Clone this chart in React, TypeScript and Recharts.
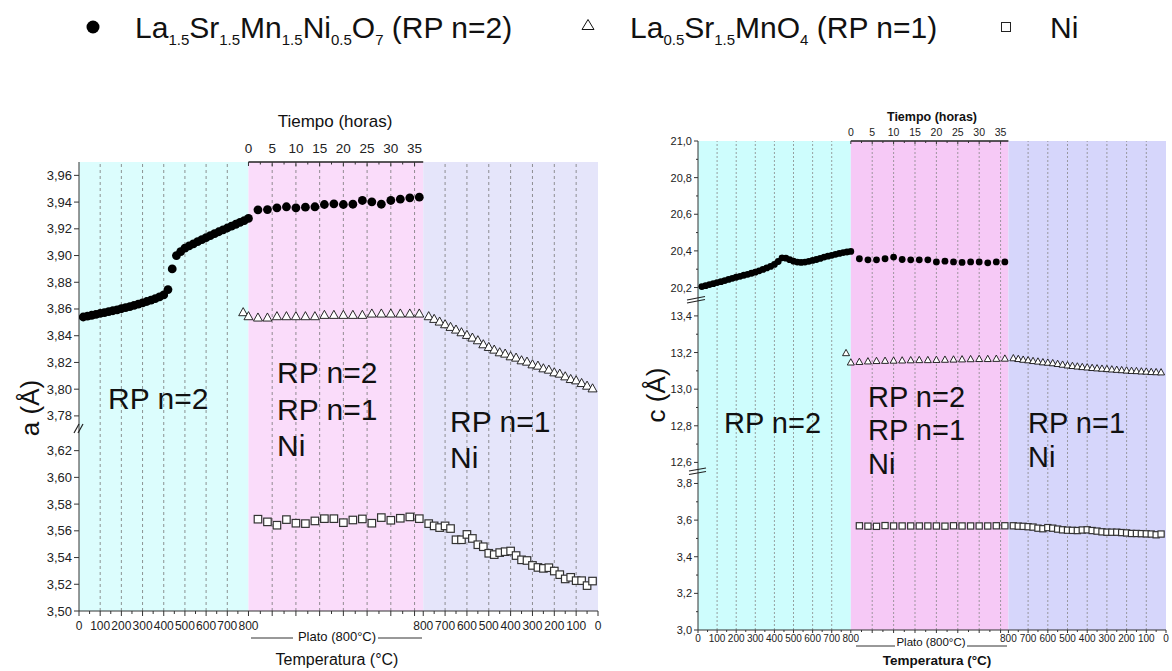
import React from "react";
import {
  ReferenceArea,
  ReferenceLine,
  Scatter,
  ScatterChart,
  XAxis,
  YAxis,
} from "recharts";

const FONT = "'Liberation Sans', Arial, Helvetica, sans-serif";

// x layout: heating 0→800 °C, plateau (hours), cooling 800→0 °C
const HEAT_TICKS = [0, 100, 200, 300, 400, 500, 600, 700, 800];
const HEAT_MINOR = [50, 150, 250, 350, 450, 550, 650, 750];
const HOUR_TICKS = [0, 5, 10, 15, 20, 25, 30, 35];
const HOUR_MINOR = [2.5, 7.5, 12.5, 17.5, 22.5, 27.5, 32.5];
const COOL_TICKS = [800, 700, 600, 500, 400, 300, 200, 100, 0];
const COOL_MINOR = [750, 650, 550, 450, 350, 250, 150, 50];

const PLAT_START = 800;
const PER_HOUR = 22.4;
const PLAT_END = 1625;
const COOL_SCALE = 1.03125;
const X_MAX = 2450;

const heatX = (t: number) => t;
const platX = (h: number) => PLAT_START + h * PER_HOUR;
const coolX = (t: number) => PLAT_END + (800 - t) * COOL_SCALE;

// measurement points
const HEAT_T = [
  20, 40, 60, 80, 100, 120, 140, 160, 180, 200, 220, 240, 260, 280, 300, 320,
  340, 360, 380, 400, 420, 440, 460, 480, 500, 520, 540, 560, 580, 600, 620,
  640, 660, 680, 700, 720, 740, 760, 780, 800,
];
const PLAT_H = [2, 4, 6, 8, 10, 12, 14, 16, 18, 20, 22, 24, 26, 28, 30, 32, 34, 36];
const RP1_PLAT_H = [0, 2, 4, 6, 8, 10, 12, 14, 16, 18, 20, 22, 24, 26, 28, 30, 32, 34, 36];
const RP1_HEAT_T = [775];
const COOL_T = [
  775, 750, 725, 700, 675, 650, 625, 600, 575, 550, 525, 500, 475, 450, 425,
  400, 375, 350, 325, 300, 275, 250, 225, 200, 175, 150, 125, 100, 75, 50, 25,
];

// parameter a (Å)
const A_RP2_HEAT = [
  3.854, 3.8547, 3.8553, 3.856, 3.8567, 3.8573, 3.858, 3.8587, 3.8594, 3.8602,
  3.861, 3.8618, 3.8627, 3.8636, 3.8646, 3.8656, 3.8666, 3.8677, 3.869, 3.8705,
  3.8745, 3.89, 3.9, 3.903, 3.9055, 3.9072, 3.9088, 3.9104, 3.9119, 3.9134,
  3.9149, 3.9164, 3.9178, 3.9192, 3.9206, 3.922, 3.9234, 3.9248, 3.9262, 3.9278,
];
const A_RP2_PLAT = [
  3.9342, 3.9344, 3.9357, 3.9365, 3.9357, 3.9362, 3.9365, 3.9382, 3.9387,
  3.9382, 3.9384, 3.9412, 3.9402, 3.9384, 3.9412, 3.9422, 3.9432, 3.9437,
];
const A_RP1_HEAT = [3.858];
const A_RP1_PLAT = [
  3.855, 3.854, 3.854, 3.855, 3.855, 3.855, 3.855, 3.855, 3.856, 3.856, 3.856,
  3.856, 3.856, 3.857, 3.857, 3.857, 3.857, 3.857, 3.857,
];
const A_RP1_COOL = [
  3.855, 3.853, 3.851, 3.849, 3.847, 3.845, 3.843, 3.841, 3.839, 3.837, 3.834,
  3.832, 3.83, 3.828, 3.827, 3.825, 3.824, 3.822, 3.821, 3.819, 3.818, 3.816,
  3.815, 3.813, 3.812, 3.81, 3.808, 3.807, 3.805, 3.803, 3.801,
];
const A_NI_PLAT = [
  3.5687, 3.5667, 3.5642, 3.5684, 3.5657, 3.5654, 3.5674, 3.5691, 3.5691,
  3.5661, 3.5681, 3.5689, 3.5657, 3.5699, 3.5679, 3.5694, 3.5704, 3.5691,
];
const A_NI_COOL = [
  3.5654, 3.5637, 3.5624, 3.5637, 3.5617, 3.5533, 3.5533, 3.5573, 3.5543,
  3.5496, 3.5481, 3.5432, 3.5422, 3.5437, 3.5444, 3.5449, 3.5415, 3.5383,
  3.5378, 3.5341, 3.5326, 3.5319, 3.5324, 3.5299, 3.5272, 3.524, 3.5252,
  3.5227, 3.5227, 3.519, 3.5224,
];

// parameter c (Å)
const C_RP2_HEAT = [
  20.205, 20.21, 20.216, 20.221, 20.227, 20.232, 20.238, 20.244, 20.25, 20.256,
  20.261, 20.267, 20.272, 20.278, 20.284, 20.291, 20.299, 20.307, 20.315,
  20.326, 20.342, 20.362, 20.36, 20.352, 20.344, 20.339, 20.337, 20.339,
  20.343, 20.348, 20.353, 20.359, 20.366, 20.371, 20.376, 20.381, 20.386,
  20.39, 20.394, 20.397,
];
const C_RP2_PLAT = [
  20.357, 20.351, 20.351, 20.357, 20.366, 20.353, 20.351, 20.351, 20.351,
  20.34, 20.344, 20.34, 20.337, 20.34, 20.34, 20.335, 20.34, 20.34,
];
const C_RP1_HEAT = [13.2];
const C_RP1_PLAT = [
  13.149, 13.152, 13.155, 13.157, 13.158, 13.159, 13.16, 13.161, 13.162,
  13.162, 13.163, 13.164, 13.165, 13.166, 13.167, 13.168, 13.168, 13.169, 13.17,
];
const C_RP1_COOL = [
  13.172, 13.168, 13.164, 13.161, 13.157, 13.154, 13.15, 13.148, 13.145,
  13.141, 13.137, 13.133, 13.13, 13.127, 13.124, 13.122, 13.119, 13.117,
  13.115, 13.113, 13.111, 13.109, 13.107, 13.105, 13.103, 13.102, 13.1, 13.099,
  13.097, 13.096, 13.095,
];
const C_NI_PLAT = [
  3.569, 3.567, 3.566, 3.57, 3.568, 3.568, 3.568, 3.568, 3.568, 3.568, 3.567,
  3.569, 3.568, 3.568, 3.568, 3.568, 3.569, 3.569,
];
const C_NI_COOL = [
  3.569, 3.567, 3.566, 3.564, 3.562, 3.556, 3.553, 3.559, 3.556, 3.551, 3.547,
  3.545, 3.544, 3.543, 3.546, 3.547, 3.543, 3.54, 3.536, 3.534, 3.534, 3.534,
  3.532, 3.53, 3.527, 3.527, 3.526, 3.525, 3.524, 3.52, 3.524,
];

// broken y axes: real value -> continuous plotting value
const A_TICKS_LOW = [3.5, 3.52, 3.54, 3.56, 3.58, 3.6, 3.62];
const A_TICKS_HIGH = [3.78, 3.8, 3.82, 3.84, 3.86, 3.88, 3.9, 3.92, 3.94, 3.96];
const aY = (v: number) => (v > 3.7 ? v - 0.134 : v);
const A_DOMAIN: [number, number] = [3.5, 3.836];

const C_TICKS_LOW = [3.0, 3.2, 3.4, 3.6, 3.8];
const C_TICKS_MID = [12.6, 12.8, 13.0, 13.2, 13.4];
const C_TICKS_HIGH = [20.2, 20.4, 20.6, 20.8, 21.0];
const C_MINOR = [3.1, 3.3, 3.5, 3.7, 12.7, 12.9, 13.1, 13.3, 20.3, 20.5, 20.7, 20.9];
const cY = (v: number) => (v > 17 ? v - 15.33 : v > 8 ? v - 8.685 : v);
const C_DOMAIN: [number, number] = [3.0, 5.67];

type Pt = { x: number; y: number };
type TickItem = { v: number; label: string; major: boolean };

const pts = (
  xs: number[],
  ys: number[],
  fx: (n: number) => number,
  fy: (n: number) => number
): Pt[] => xs.map((t, i) => ({ x: fx(t), y: fy(ys[i]) }));

const bottomTicks: TickItem[] = [
  ...HEAT_TICKS.map((t) => ({ v: heatX(t), label: String(t), major: true })),
  ...HEAT_MINOR.map((t) => ({ v: heatX(t), label: "", major: false })),
  ...HOUR_TICKS.slice(1).map((h) => ({ v: platX(h), label: "", major: true })),
  ...HOUR_MINOR.map((h) => ({ v: platX(h), label: "", major: false })),
  ...COOL_TICKS.map((t) => ({ v: coolX(t), label: String(t), major: true })),
  ...COOL_MINOR.map((t) => ({ v: coolX(t), label: "", major: false })),
];
const topTicks: TickItem[] = [
  ...HOUR_TICKS.map((h) => ({ v: platX(h), label: String(h), major: true })),
  ...HOUR_MINOR.map((h) => ({ v: platX(h), label: "", major: false })),
];
const gridX = [
  ...HEAT_TICKS.slice(1, -1).map(heatX),
  ...HOUR_TICKS.slice(1).map(platX),
  ...COOL_TICKS.slice(1, -1).map(coolX),
];

const aTicks: TickItem[] = [...A_TICKS_LOW, ...A_TICKS_HIGH].map((v) => ({
  v: aY(v),
  label: v.toFixed(2).replace(".", ","),
  major: true,
}));
const cTicks: TickItem[] = [
  ...[...C_TICKS_LOW, ...C_TICKS_MID, ...C_TICKS_HIGH].map((v) => ({
    v: cY(v),
    label: v.toFixed(1).replace(".", ","),
    major: true,
  })),
  ...C_MINOR.map((v) => ({ v: cY(v), label: "", major: false })),
];

const find = (list: TickItem[], v: number) =>
  list.find((t) => Math.abs(t.v - v) < 1e-6);

type TickStyle = { dir: number; len: number; minor: number; dy: number; size: number; weight?: number };

const xTick = (list: TickItem[], s: TickStyle) => (p: any) => {
  const t = find(list, p.payload.value);
  if (!t) return <g />;
  return (
    <g>
      <line x1={p.x} x2={p.x} y1={p.y} y2={p.y + s.dir * (t.major ? s.len : s.minor)} stroke="#333" />
      {t.label && (
        <text x={p.x} y={p.y + s.dy} textAnchor="middle" fontSize={s.size} fontWeight={s.weight} fontFamily={FONT} fill="#222">
          {t.label}
        </text>
      )}
    </g>
  );
};

const yTick = (list: TickItem[], s: TickStyle) => (p: any) => {
  const t = find(list, p.payload.value);
  if (!t) return <g />;
  return (
    <g>
      <line x1={p.x - (t.major ? s.len : s.minor)} x2={p.x} y1={p.y} y2={p.y} stroke="#333" />
      {t.label && (
        <text x={p.x - s.len - 2} y={p.y + s.dy} textAnchor="end" fontSize={s.size} fontWeight={s.weight} fontFamily={FONT} fill="#222">
          {t.label}
        </text>
      )}
    </g>
  );
};

const dot = (r: number) => (p: any) => <circle cx={p.cx} cy={p.cy} r={r} fill="#000" />;
const tri = (w: number) => (p: any) => {
  const h = w * 0.9;
  return (
    <path
      d={`M${p.cx},${p.cy - h / 2}L${p.cx + w / 2},${p.cy + h / 2}L${p.cx - w / 2},${p.cy + h / 2}Z`}
      fill="#fff"
      stroke="#111"
      strokeWidth={0.9}
    />
  );
};
const sq = (s: number) => (p: any) => (
  <rect x={p.cx - s / 2} y={p.cy - s / 2} width={s} height={s} fill="#fff" stroke="#333" strokeWidth={1.2} />
);

type PanelCfg = {
  left: number;
  top: number;
  w: number;
  h: number;
  margin: { top: number; right: number; bottom: number; left: number };
  yW: number;
  topH: number;
  botH: number;
  domain: [number, number];
  yTicks: TickItem[];
  bands: [string, string, string];
  grid: { stroke: string; dash: string; width: number };
  botStyle: TickStyle;
  topStyle: TickStyle;
  yStyle: TickStyle;
  rp2: Pt[];
  rp1: Pt[];
  ni: Pt[];
  r: number;
  triW: number;
  sqS: number;
};

function Panel({ c }: { c: PanelCfg }) {
  return (
    <div style={{ position: "absolute", left: c.left, top: c.top }}>
      <ScatterChart width={c.w} height={c.h} margin={c.margin}>
        <XAxis
          xAxisId="b"
          type="number"
          dataKey="x"
          domain={[0, X_MAX]}
          ticks={bottomTicks.map((t) => t.v)}
          interval={0}
          tick={xTick(bottomTicks, c.botStyle)}
          tickLine={false}
          tickSize={0}
          tickMargin={0}
          height={c.botH}
          axisLine={{ stroke: "#333" }}
          allowDataOverflow
        />
        <XAxis
          xAxisId="t"
          orientation="top"
          type="number"
          dataKey="x"
          domain={[0, X_MAX]}
          ticks={topTicks.map((t) => t.v)}
          interval={0}
          tick={xTick(topTicks, c.topStyle)}
          tickLine={false}
          tickSize={0}
          tickMargin={0}
          height={c.topH}
          axisLine={false}
          allowDataOverflow
        />
        <YAxis
          type="number"
          dataKey="y"
          domain={c.domain}
          ticks={c.yTicks.map((t) => t.v)}
          interval={0}
          tick={yTick(c.yTicks, c.yStyle)}
          tickLine={false}
          tickSize={0}
          tickMargin={0}
          width={c.yW}
          axisLine={{ stroke: "#333" }}
          allowDataOverflow
        />
        <ReferenceArea xAxisId="b" x1={0} x2={PLAT_START} fill={c.bands[0]} fillOpacity={1} stroke="none" />
        <ReferenceArea xAxisId="b" x1={PLAT_START} x2={PLAT_END} fill={c.bands[1]} fillOpacity={1} stroke="none" />
        <ReferenceArea xAxisId="b" x1={PLAT_END} x2={X_MAX} fill={c.bands[2]} fillOpacity={1} stroke="none" />
        {gridX.map((x) => (
          <ReferenceLine
            key={x}
            xAxisId="b"
            x={x}
            stroke={c.grid.stroke}
            strokeWidth={c.grid.width}
            strokeDasharray={c.grid.dash}
          />
        ))}
        <ReferenceLine
          xAxisId="b"
          segment={[
            { x: PLAT_START, y: c.domain[1] },
            { x: PLAT_END, y: c.domain[1] },
          ]}
          stroke="#222"
          strokeWidth={1.3}
        />
        <Scatter xAxisId="b" data={c.rp1} shape={tri(c.triW)} isAnimationActive={false} />
        <Scatter xAxisId="b" data={c.ni} shape={sq(c.sqS)} isAnimationActive={false} />
        <Scatter xAxisId="b" data={c.rp2} shape={dot(c.r)} isAnimationActive={false} />
      </ScatterChart>
    </div>
  );
}

const leftCfg: PanelCfg = {
  left: 0,
  top: 90,
  w: 620,
  h: 581,
  margin: { top: 32, right: 22, bottom: 30, left: 19 },
  yW: 60,
  topH: 40,
  botH: 30,
  domain: A_DOMAIN,
  yTicks: aTicks,
  bands: ["#dcfdfd", "#fadcfa", "#e5e5fa"],
  grid: { stroke: "#777", dash: "3 3", width: 0.8 },
  botStyle: { dir: 1, len: 5, minor: 3, dy: 19, size: 12 },
  topStyle: { dir: 1, len: 4, minor: 2.5, dy: -9, size: 13.5 },
  yStyle: { dir: -1, len: 5, minor: 3, dy: 4.5, size: 13 },
  rp2: [...pts(HEAT_T, A_RP2_HEAT, heatX, aY), ...pts(PLAT_H, A_RP2_PLAT, platX, aY)],
  rp1: [
    ...pts(RP1_HEAT_T, A_RP1_HEAT, heatX, aY),
    ...pts(RP1_PLAT_H, A_RP1_PLAT, platX, aY),
    ...pts(COOL_T, A_RP1_COOL, coolX, aY),
  ],
  ni: [...pts(PLAT_H, A_NI_PLAT, platX, aY), ...pts(COOL_T, A_NI_COOL, coolX, aY)],
  r: 4.4,
  triW: 9,
  sqS: 7.5,
};

const rightCfg: PanelCfg = {
  left: 640,
  top: 80,
  w: 532,
  h: 591,
  margin: { top: 39, right: 6, bottom: 16, left: 18 },
  yW: 40,
  topH: 22,
  botH: 25,
  domain: C_DOMAIN,
  yTicks: cTicks,
  bands: ["#cefdfd", "#f6c9f6", "#d6d6fb"],
  grid: { stroke: "#888", dash: "2 2", width: 0.8 },
  botStyle: { dir: 1, len: 3, minor: 2, dy: 11.5, size: 10 },
  topStyle: { dir: 1, len: 3, minor: 2, dy: -5, size: 10.5 },
  yStyle: { dir: -1, len: 4, minor: 2, dy: 4, size: 11 },
  rp2: [...pts(HEAT_T, C_RP2_HEAT, heatX, cY), ...pts(PLAT_H, C_RP2_PLAT, platX, cY)],
  rp1: [
    ...pts(RP1_HEAT_T, C_RP1_HEAT, heatX, cY),
    ...pts(RP1_PLAT_H, C_RP1_PLAT, platX, cY),
    ...pts(COOL_T, C_RP1_COOL, coolX, cY),
  ],
  ni: [...pts(PLAT_H, C_NI_PLAT, platX, cY), ...pts(COOL_T, C_NI_COOL, coolX, cY)],
  r: 3.4,
  triW: 7,
  sqS: 6.2,
};

const T = (p: React.SVGProps<SVGTextElement>) => (
  <text fontFamily={FONT} fill="#111" {...p} />
);

function Overlay() {
  const sub = { fontSize: 15 };
  return (
    <svg width={1172} height={671} style={{ position: "absolute", left: 0, top: 0, pointerEvents: "none" }}>
      {/* legend */}
      <circle cx={93} cy={27} r={6.5} fill="#000" />
      <T x={135} y={38} fontSize={30}>
        La<tspan dy={7} {...sub}>1.5</tspan>
        <tspan dy={-7}>Sr</tspan>
        <tspan dy={7} {...sub}>1.5</tspan>
        <tspan dy={-7}>Mn</tspan>
        <tspan dy={7} {...sub}>1.5</tspan>
        <tspan dy={-7}>Ni</tspan>
        <tspan dy={7} {...sub}>0.5</tspan>
        <tspan dy={-7}>O</tspan>
        <tspan dy={7} {...sub}>7</tspan>
        <tspan dy={-7}> (RP n=2)</tspan>
      </T>
      <path d="M588,19.5L594,29.5L582,29.5Z" fill="#fff" stroke="#111" strokeWidth={1} />
      <T x={630} y={38} fontSize={30}>
        La<tspan dy={7} {...sub}>0.5</tspan>
        <tspan dy={-7}>Sr</tspan>
        <tspan dy={7} {...sub}>1.5</tspan>
        <tspan dy={-7}>MnO</tspan>
        <tspan dy={7} {...sub}>4</tspan>
        <tspan dy={-7}> (RP n=1)</tspan>
      </T>
      <rect x={1001.5} y={22.5} width={9} height={9} fill="#fff" stroke="#222" strokeWidth={1} />
      <T x={1050} y={38} fontSize={30}>Ni</T>

      {/* left panel annotations */}
      <T x={335} y={127} fontSize={17} textAnchor="middle">Tiempo (horas)</T>
      <T x={337} y={641} fontSize={13} textAnchor="middle">Plato (800°C)</T>
      <line x1={251} x2={293} y1={638} y2={638} stroke="#333" />
      <line x1={378} x2={422} y1={638} y2={638} stroke="#333" />
      <T x={337} y={665} fontSize={16} textAnchor="middle">Temperatura (°C)</T>
      <T x={30} y={408} fontSize={26} textAnchor="middle" dominantBaseline="central" transform="rotate(-90 30 408)">
        a (Å)
      </T>
      <line x1={74} y1={433} x2={79} y2={424} stroke="#222" strokeWidth={1.2} />
      <line x1={78} y1={433} x2={83} y2={424} stroke="#222" strokeWidth={1.2} />
      <T x={108} y={409} fontSize={30}>RP n=2</T>
      <T x={277} y={383} fontSize={30}>RP n=2</T>
      <T x={277} y={420} fontSize={30}>RP n=1</T>
      <T x={277} y={456} fontSize={30}>Ni</T>
      <T x={450} y={432} fontSize={30}>RP n=1</T>
      <T x={450} y={468} fontSize={30}>Ni</T>

      {/* right panel annotations */}
      <T x={932} y={121} fontSize={12.5} fontWeight="bold" textAnchor="middle">Tiempo (horas)</T>
      <T x={931} y={646} fontSize={11.5} textAnchor="middle">Plato (800°C)</T>
      <line x1={856} x2={895} y1={646} y2={646} stroke="#333" />
      <line x1={967} x2={1007} y1={646} y2={646} stroke="#333" />
      <T x={937} y={665} fontSize={13.5} fontWeight="bold" textAnchor="middle">Temperatura (°C)</T>
      <T x={656} y={395} fontSize={26} textAnchor="middle" dominantBaseline="central" transform="rotate(-90 656 395)">
        c (Å)
      </T>
      <line x1={687} y1={300} x2={705} y2={296.5} stroke="#222" strokeWidth={1.2} />
      <line x1={687} y1={303} x2={705} y2={299.5} stroke="#222" strokeWidth={1.2} />
      <line x1={689} y1={471} x2={706} y2={468} stroke="#222" strokeWidth={1.2} />
      <line x1={689} y1={474.5} x2={706} y2={471.5} stroke="#222" strokeWidth={1.2} />
      <T x={724} y={433} fontSize={29}>RP n=2</T>
      <T x={868} y={407} fontSize={29}>RP n=2</T>
      <T x={868} y={440} fontSize={29}>RP n=1</T>
      <T x={868} y={474} fontSize={29}>Ni</T>
      <T x={1028} y={433} fontSize={29}>RP n=1</T>
      <T x={1028} y={467} fontSize={29}>Ni</T>
    </svg>
  );
}

export default function App() {
  return (
    <div
      style={{
        position: "absolute",
        left: 0,
        top: 0,
        width: 1172,
        height: 671,
        background: "#fff",
        overflow: "hidden",
      }}
    >
      <Panel c={leftCfg} />
      <Panel c={rightCfg} />
      <Overlay />
    </div>
  );
}
